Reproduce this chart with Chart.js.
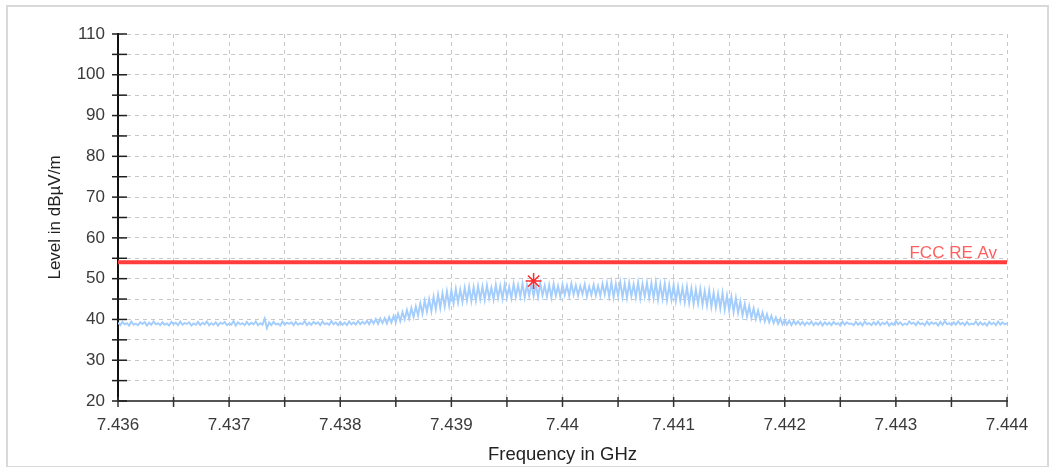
<!DOCTYPE html>
<html>
<head>
<meta charset="utf-8">
<script src="https://cdn.jsdelivr.net/npm/chart.js@4.4.0/dist/chart.umd.min.js"></script>
<style>
  html, body { margin: 0; padding: 0; background: #ffffff; }
  #wrap { position: relative; width: 1049px; height: 467px; overflow: hidden; background: #fff; }
  #frame { position: absolute; left: 6px; top: 5px; width: 1039px; height: 459px; border: 2px solid #d9d9d9; pointer-events: none; }
  canvas { position: absolute; left: 0; top: 0; }
</style>
</head>
<body>
<div id="wrap">
  <canvas id="c" width="1049" height="467"></canvas>
  <div id="frame"></div>
</div>
<script>
// ---- Data ----
const freqStartGHz = 7.436;
const freqStepGHz = 0.00002;
// Measured level trace (dBµV/m), one value per sweep point
const traceLevels = [
  39.2,38.6,39.4,38.8,39.1,38.5,39.5,38.7,39.0,38.6,39.3,38.9,39.4,38.5,39.2,38.7,39.5,38.8,39.1,38.6,
  39.3,38.7,39.0,38.5,39.4,38.8,39.2,38.6,39.5,38.7,39.1,38.9,39.3,38.5,39.0,38.7,39.4,38.6,39.2,38.8,
  39.5,38.6,39.1,38.7,39.3,38.5,39.2,38.9,39.4,38.6,39.0,38.7,39.6,38.5,39.3,38.8,39.1,38.6,39.4,38.7,
  39.2,38.8,39.5,38.6,39.1,38.7,40.2,37.9,39.3,38.6,39.4,38.8,39.0,38.5,39.5,38.7,39.2,38.9,39.3,38.6,
  39.4,38.7,39.1,38.8,39.6,38.6,39.2,38.7,39.4,38.9,39.3,38.6,39.5,38.8,39.1,38.7,39.6,38.8,39.3,38.6,
  39.4,38.7,39.2,38.6,39.5,38.8,39.3,38.7,39.6,38.8,39.4,38.9,39.7,38.8,39.9,39.0,40.1,38.9,40.2,39.1,
  40.3,39.0,40.6,39.2,40.9,39.3,41.4,39.6,41.8,40.0,42.3,40.2,42.8,40.6,43.2,41.0,44.0,41.4,44.6,41.9,
  45.0,42.0,45.6,42.5,46.1,42.8,46.4,43.2,46.9,43.4,47.2,43.9,47.5,44.1,47.3,44.3,47.8,44.6,48.0,44.5,
  47.9,44.6,48.2,45.0,48.1,44.8,48.4,45.2,47.8,44.9,48.5,45.3,48.2,45.1,48.6,45.4,48.0,45.2,48.7,45.5,
  48.4,45.6,48.8,45.4,48.5,45.8,49.0,45.7,48.6,45.5,48.9,45.9,48.3,45.6,48.5,45.4,48.7,45.8,48.2,45.6,
  48.6,46.0,48.3,45.8,48.8,46.1,48.4,45.9,48.2,46.2,48.6,45.7,48.1,46.0,48.5,45.9,48.2,45.8,48.7,46.1,
  48.9,45.6,49.1,45.4,48.7,45.8,49.2,45.5,48.8,45.3,49.0,45.7,48.6,45.4,49.1,45.2,48.7,45.6,49.0,45.3,
  48.9,45.2,49.1,44.9,48.6,45.1,48.8,44.7,48.4,44.9,48.5,44.5,48.1,44.6,47.8,44.2,48.0,44.0,47.6,43.8,
  47.4,43.9,47.5,43.6,47.0,43.4,47.2,43.1,46.6,42.9,46.3,42.7,46.5,42.4,45.9,42.2,45.6,41.8,45.3,41.6,
  44.4,41.0,43.8,40.7,43.3,40.4,42.7,40.1,42.2,39.8,41.7,39.5,41.3,39.3,40.9,39.1,40.5,38.9,40.2,38.8,
  39.9,38.7,39.7,38.6,39.6,38.8,39.5,38.7,39.4,38.6,39.3,38.8,39.5,38.6,39.2,38.7,39.4,38.5,39.3,38.7,
  39.2,38.6,39.4,38.8,39.1,38.5,39.5,38.7,39.3,38.9,39.0,38.6,39.4,38.7,39.2,38.5,39.5,38.8,39.1,38.6,
  39.3,38.7,39.5,38.6,39.2,38.8,39.4,38.5,39.1,38.7,39.6,38.8,39.3,38.6,39.0,38.7,39.5,38.9,39.2,38.6,
  39.4,38.8,39.1,38.6,39.5,38.7,39.3,38.9,39.2,38.5,39.4,38.7,39.6,38.8,39.1,38.6,39.3,38.7,39.5,38.8,
  39.2,38.6,39.4,38.7,39.0,38.8,39.5,38.6,39.3,38.7,39.1,38.5,39.4,38.8,39.2,38.6,39.5,38.7,39.3,38.8,
  39.1
];
// Limit line
const limitLabel = 'FCC RE Av';
const limitFreqs = [7.436, 7.444];
const limitLevels = [54, 54];
// Peak marker
const markerFreqs = [7.43974];
const markerLevels = [49.4];
// Axes
const xTickValues = [7.436,7.4365,7.437,7.4375,7.438,7.4385,7.439,7.4395,7.44,7.4405,7.441,7.4415,7.442,7.4425,7.443,7.4435,7.444];
const xTickLabels = ['7.436','','7.437','','7.438','','7.439','','7.44','','7.441','','7.442','','7.443','','7.444'];
const yTickValues = [20,25,30,35,40,45,50,55,60,65,70,75,80,85,90,95,100,105,110];
const yTickLabels = ['20','','30','','40','','50','','60','','70','','80','','90','','100','','110'];
const xTitle = 'Frequency in GHz';
const yTitle = 'Level in dBµV/m';

// ---- Build datasets ----
const tracePoints = traceLevels.map((v, i) => ({ x: freqStartGHz + i * freqStepGHz, y: v }));
const limitPoints = limitFreqs.map((f, i) => ({ x: f, y: limitLevels[i] }));
const markerPoints = markerFreqs.map((f, i) => ({ x: f, y: markerLevels[i] }));

const FONT = "'Liberation Sans', Arial, sans-serif";

const crossTicks = {
  id: 'crossTicks',
  afterDraw(chart) {
    const { ctx, chartArea: a, scales: { x, y } } = chart;
    ctx.save();
    ctx.lineWidth = 1.5;
    ctx.strokeStyle = '#1e1e1e';
    y.ticks.forEach(t => {
      const p = y.getPixelForValue(t.value);
      ctx.beginPath(); ctx.moveTo(a.left - 6, p); ctx.lineTo(a.left + 9, p); ctx.stroke();
    });
    ctx.strokeStyle = '#333';
    x.ticks.forEach(t => {
      const p = x.getPixelForValue(t.value);
      ctx.beginPath(); ctx.moveTo(p, a.bottom - 4); ctx.lineTo(p, a.bottom + 6); ctx.stroke();
    });
    // limit label
    ctx.fillStyle = '#ff5f5f';
    ctx.font = "17px " + FONT;
    ctx.textAlign = 'right';
    ctx.textBaseline = 'alphabetic';
    ctx.fillText(limitLabel, x.getPixelForValue(limitFreqs[1]) - 10, y.getPixelForValue(limitLevels[1]) - 4);
    ctx.restore();
  }
};

new Chart(document.getElementById('c'), {
  type: 'line',
  data: {
    datasets: [
      { label: 'Peak', data: markerPoints, showLine: false, pointStyle: 'star', pointRadius: 8,
        pointBorderColor: '#ff2a2a', pointBackgroundColor: '#ff2a2a', pointBorderWidth: 1.5, order: 0 },
      { label: limitLabel, data: limitPoints, borderColor: '#ff3d3d', borderWidth: 4, pointRadius: 0, order: 1 },
      { label: 'Level', data: tracePoints, borderColor: '#a3cdfd', borderWidth: 1.9, pointRadius: 0,
        tension: 0, order: 2 }
    ]
  },
  options: {
    responsive: false,
    animation: false,
    events: [],
    layout: { padding: { top: 34, right: 42, left: 0, bottom: 0 } },
    plugins: { legend: { display: false }, tooltip: { enabled: false } },
    scales: {
      x: {
        type: 'linear', min: 7.436, max: 7.444,
        afterBuildTicks: s => { s.ticks = xTickValues.map(v => ({ value: v })); },
        afterFit: s => { s.height = 66; },
        ticks: { autoSkip: false, maxRotation: 0, padding: 14, color: '#3a3a3a',
                 font: { family: FONT, size: 17 }, callback: (v, i) => xTickLabels[i] },
        grid: { color: '#c8c8c8', lineWidth: 1, drawTicks: false },
        border: { display: true, color: '#555', width: 2, dash: [4, 4] },
        title: { display: true, text: xTitle, color: '#222', font: { family: FONT, size: 18.5 },
                 padding: { top: 0, bottom: 1 } }
      },
      y: {
        type: 'linear', min: 20, max: 110,
        afterBuildTicks: s => { s.ticks = yTickValues.map(v => ({ value: v })); },
        afterFit: s => { s.width = 118; },
        ticks: { autoSkip: false, padding: 13, color: '#3a3a3a',
                 font: { family: FONT, size: 17 }, callback: (v, i) => yTickLabels[i] },
        grid: { color: '#c8c8c8', lineWidth: 1, drawTicks: false },
        border: { display: true, color: '#111', width: 2, dash: [4, 4] },
        title: { display: true, text: yTitle, color: '#222', font: { family: FONT, size: 17 },
                 padding: { top: 45, bottom: 0 } }
      }
    }
  },
  plugins: [crossTicks]
});
</script>
</body>
</html>
